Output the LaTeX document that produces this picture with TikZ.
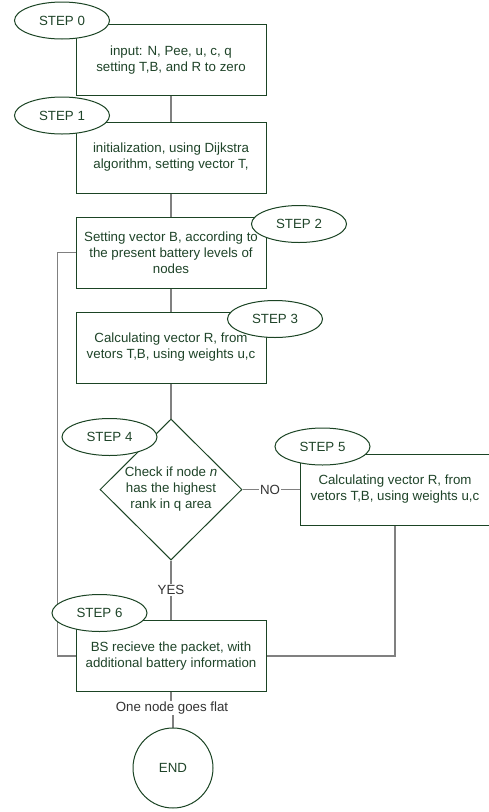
\documentclass[tikz,border=0pt]{standalone}
\usepackage{fontspec}
\setmainfont{Liberation Sans}
\usetikzlibrary{shapes.geometric,backgrounds}
\definecolor{edge}{HTML}{1B4424}
\definecolor{ink}{HTML}{1F4429}
\definecolor{wirecol}{HTML}{808080}
\definecolor{lab}{HTML}{333333}
\begin{document}
\begin{tikzpicture}[x=1pt,y=-1pt,
  font=\fontsize{13.3}{16}\selectfont,
  stepbox/.style={draw=edge,fill=white,line width=1pt,minimum width=190pt,
    minimum height=71pt,align=center,text=ink,inner sep=0pt},
  tag/.style={ellipse,draw=edge,fill=white,line width=1pt,minimum width=95pt,
    minimum height=37pt,inner sep=0pt,text=ink},
  wire/.style={draw=wirecol,line width=1.2pt},
  lbl/.style={fill=white,text=lab,inner sep=1pt}]
\useasboundingbox (0,0) rectangle (488,812);

% process boxes
\node[stepbox] (b0) at (171,60) {input: N, Pee, u, c, q\\setting T,B, and R to zero};
\node[stepbox] (b1) at (171,157.5) {initialization, using Dijkstra\\algorithm, setting vector T,};
\node[stepbox] (b2) at (171,252.5) {Setting vector B, according to\\the present battery levels of\\nodes};
\node[stepbox] (b3) at (171,347.5) {Calculating vector R, from\\vetors T,B, using weights u,c};
\node[diamond,draw=edge,fill=white,line width=1pt,minimum width=142pt,
  minimum height=141pt,inner sep=0pt,aspect=1,align=center,text=ink]
  (d4) at (171,489.5) {Check if node \textit{n}\\has the highest\\rank in q area};
\node[stepbox] (b5) at (395,489.5) {Calculating vector R, from\\vetors T,B, using weights u,c};
\node[stepbox] (b6) at (171,656) {BS recieve the packet, with\\additional battery information};
\node[circle,draw=edge,fill=white,line width=1pt,minimum size=80pt,text=ink]
  (end) at (173,768) {END};

% step tags
\node[tag] (t0) at (62,20.5) {STEP 0};
\node[tag] (t1) at (62,115.5) {STEP 1};
\node[tag] (t2) at (299,224) {STEP 2};
\node[tag] (t3) at (275,319) {STEP 3};
\node[tag] (t4) at (109.5,437) {STEP 4};
\node[tag] (t5) at (322.5,446.5) {STEP 5};
\node[tag] (t6) at (99.5,613) {STEP 6};

% edge labels
\node[lbl] (no) at (270,489.5) {NO};
\node[lbl] (yes) at (171,590) {YES};
\node[lbl] (flat) at (172,708) {One node goes flat};

% connectors
\begin{scope}[on background layer]
  \draw[wire] (b0) -- (b1);
  \draw[wire] (b1) -- (b2);
  \draw[wire] (b2) -- (b3);
  \draw[wire] (b3.south) -- (d4.north);
  \draw[wire] (d4.east) -- (b5.west);
  \draw[wire] (d4.south) -- (b6.north);
  \draw[wire] (b6.south) -- (b6.south |- flat);
  \draw[wire] (end.north) -- (end.north |- flat);
  \draw[wire] (b5.south) |- (b6.east);
  \draw[wire] (b6.west) -- ++(-18,0) |- (b2.west);
\end{scope}
\end{tikzpicture}
\end{document}
